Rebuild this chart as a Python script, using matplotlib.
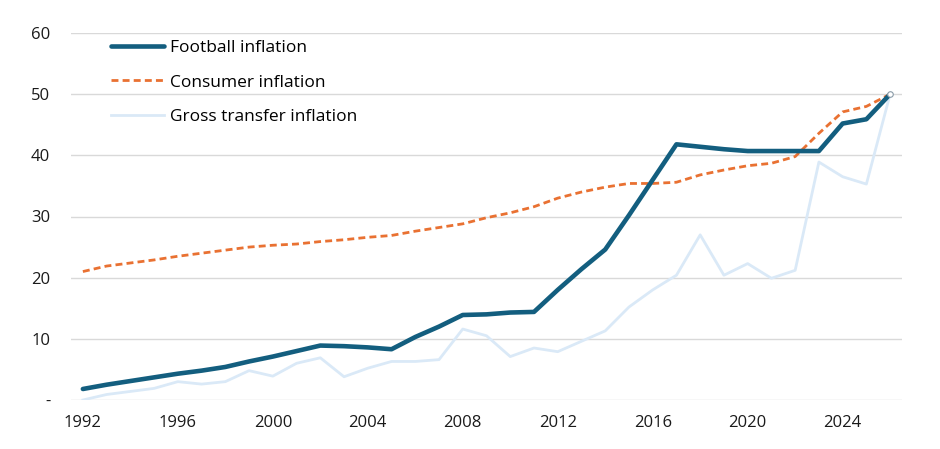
import matplotlib
matplotlib.use("Agg")
import matplotlib.pyplot as plt
from matplotlib.ticker import FuncFormatter

years = list(range(1992, 2027))

# Football inflation (index)
football = [1.8, 2.5, 3.1, 3.7, 4.3, 4.8, 5.4, 6.3, 7.1, 8.0, 8.9, 8.8, 8.6, 8.3,
            10.3, 12.0, 13.9, 14.0, 14.3, 14.4, 18.0, 21.4, 24.6, 30.2, 36.0,
            41.8, 41.4, 41.0, 40.7, 40.7, 40.7, 40.7, 45.2, 45.9, 50.0]

# Consumer inflation
consumer = [21.0, 21.9, 22.4, 22.9, 23.5, 24.0, 24.5, 25.0, 25.3, 25.5, 25.9,
            26.2, 26.6, 26.9, 27.6, 28.2, 28.8, 29.8, 30.6, 31.6, 33.0, 34.0,
            34.8, 35.4, 35.4, 35.6, 36.8, 37.6, 38.3, 38.7, 39.8, 43.6, 47.1,
            48.0, 50.0]

# Gross transfer inflation
transfer = [0.0, 0.9, 1.4, 1.9, 3.0, 2.6, 3.0, 4.8, 3.9, 6.0, 6.9, 3.8, 5.2,
            6.3, 6.3, 6.6, 11.6, 10.5, 7.1, 8.5, 7.9, 9.6, 11.3, 15.2, 18.0,
            20.4, 27.0, 20.4, 22.3, 19.9, 21.2, 38.9, 36.5, 35.3, 50.0]

yticks = [0, 10, 20, 30, 40, 50, 60]
xticks = [1992, 1996, 2000, 2004, 2008, 2012, 2016, 2020, 2024]

plt.rcParams['font.family'] = ['Open Sans', 'DejaVu Sans']

fig = plt.figure(figsize=(9.4, 4.49), dpi=100)
ax = fig.add_axes([71 / 940, 49 / 449, 831 / 940, 367 / 449])

ax.plot(years, football, color='#135E7F', lw=3.3, label='Football inflation',
        solid_capstyle='round', zorder=4)
ax.plot(years, consumer, color='#E97132', lw=2.0, ls=(0, (2.5, 1.5)),
        label='Consumer inflation', zorder=3)
ax.plot(years, transfer, color='#DAE9F7', lw=2.0, label='Gross transfer inflation',
        zorder=2)
# small hollow marker at final point
ax.plot(years[-1], transfer[-1], marker='o', ms=4, mfc='white', mec='#8A9BA8',
        mew=0.8, zorder=5)

ax.set_xlim(1991.5, 2026.5)
ax.set_ylim(0, 60)
ax.set_yticks(yticks)
ax.set_xticks(xticks)
ax.yaxis.set_major_formatter(FuncFormatter(lambda v, p: '-' if v == 0 else f'{v:.0f}'))

ax.grid(axis='y', color='#D9D9D9', lw=1.0)
ax.set_axisbelow(True)
for s in ax.spines.values():
    s.set_visible(False)
ax.tick_params(length=0, labelsize=12, colors='#1a1a1a')
ax.tick_params(axis='y', pad=15)
ax.tick_params(axis='x', pad=11)

ax.legend(loc='upper left', bbox_to_anchor=(0.029, 1.025), frameon=False,
          fontsize=12.5, handlelength=3.05, handletextpad=0.35, labelspacing=1.08)

fig.savefig('out.png', dpi=100)
